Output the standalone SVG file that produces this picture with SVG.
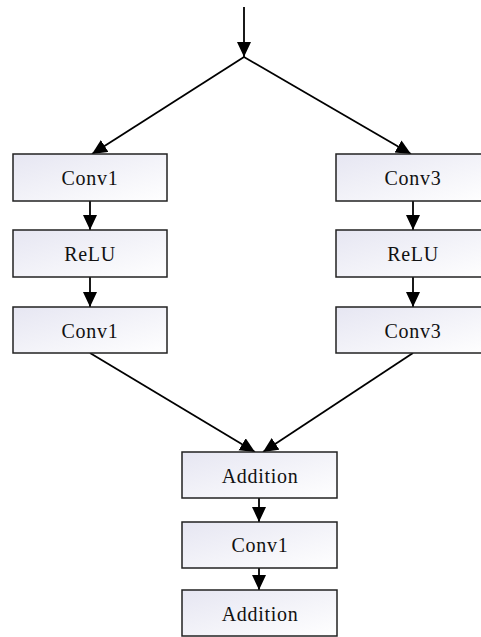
<svg xmlns="http://www.w3.org/2000/svg" width="481" height="637" viewBox="0 0 481 637">
<defs>
<linearGradient id="g" x1="0" y1="0" x2="1" y2="1">
<stop offset="0" stop-color="#e6e6f2"/>
<stop offset="1" stop-color="#ffffff"/>
</linearGradient>
<marker id="ah" markerUnits="userSpaceOnUse" markerWidth="16" markerHeight="15" refX="15" refY="7" orient="auto">
<path d="M0,0 L15,7 L0,14 z" fill="#000"/>
</marker>
<style>
.box{fill:url(#g);stroke:#222;stroke-width:1.5}
.lbl{font-family:"Liberation Serif","Times New Roman",serif;font-size:20px;letter-spacing:0.7px;text-anchor:middle;fill:#111}
.c{stroke:#000;stroke-width:1.8;fill:none;marker-end:url(#ah)}
</style>
</defs>
<rect width="481" height="637" fill="#fff"/>
<g id="connectors">
<line class="c" x1="244" y1="7" x2="244" y2="57"/>
<line class="c" x1="244" y1="57" x2="92" y2="154"/>
<line class="c" x1="244" y1="57" x2="411" y2="154"/>
<line class="c" x1="90" y1="201" x2="90" y2="230"/>
<line class="c" x1="90" y1="277" x2="90" y2="307"/>
<line class="c" x1="413" y1="201" x2="413" y2="230"/>
<line class="c" x1="413" y1="277" x2="413" y2="307"/>
<line class="c" x1="90" y1="353" x2="255" y2="452"/>
<line class="c" x1="413" y1="353" x2="263" y2="452"/>
<line class="c" x1="259" y1="498" x2="259" y2="522"/>
<line class="c" x1="259" y1="568" x2="259" y2="590"/>
</g>
<g id="conv1a"><rect class="box" x="13" y="154" width="154" height="47"/><text class="lbl" x="90" y="184.5">Conv1</text></g>
<g id="relua"><rect class="box" x="13" y="230" width="154" height="47"/><text class="lbl" x="90" y="260.5">ReLU</text></g>
<g id="conv1b"><rect class="box" x="13" y="307" width="154" height="46"/><text class="lbl" x="90" y="337.5">Conv1</text></g>
<g id="conv3a"><rect class="box" x="336" y="154" width="154" height="47"/><text class="lbl" x="413" y="184.5">Conv3</text></g>
<g id="relub"><rect class="box" x="336" y="230" width="154" height="47"/><text class="lbl" x="413" y="260.5">ReLU</text></g>
<g id="conv3b"><rect class="box" x="336" y="307" width="154" height="46"/><text class="lbl" x="413" y="337.5">Conv3</text></g>
<g id="add1"><rect class="box" x="182" y="452" width="155" height="46"/><text class="lbl" x="260" y="483">Addition</text></g>
<g id="conv1c"><rect class="box" x="182" y="522" width="155" height="46"/><text class="lbl" x="260" y="552">Conv1</text></g>
<g id="add2"><rect class="box" x="182" y="590" width="155" height="46"/><text class="lbl" x="260" y="621">Addition</text></g>
</svg>
